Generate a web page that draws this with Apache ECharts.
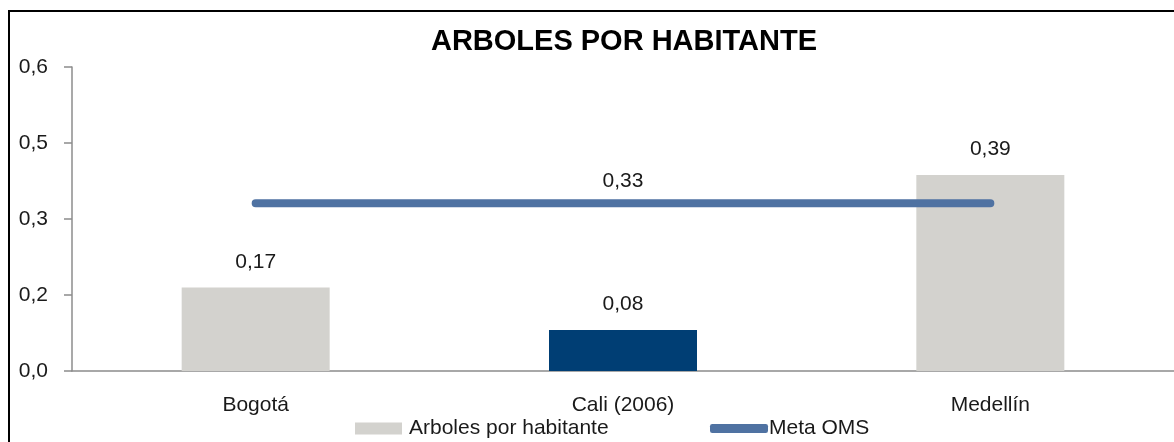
<!DOCTYPE html>
<html>
<head>
<meta charset="utf-8">
<script src="https://cdn.jsdelivr.net/npm/echarts@6/dist/echarts.min.js"></script>
<style>
  html, body { margin: 0; padding: 0; background: #fff; }
  #chart { width: 1174px; height: 442px; }
</style>
</head>
<body>
<div id="chart"></div>
<script>
const categories = ["Bogotá", "Cali (2006)", "Medellín"];
const arbolesValues = [0.165, 0.081, 0.387];
const metaOmsValues = [0.331, 0.331, 0.331];
const yTickLabels = ["0,0", "0,2", "0,3", "0,5", "0,6"];

const FONT = "'Liberation Sans', Arial, sans-serif";
const TXT = "#1a1a1a";

const chart = echarts.init(document.getElementById("chart"));

const valueLabel = (p) => p.value.toFixed(2).replace(".", ",");

const option = {
  animation: false,
  title: {
    text: "ARBOLES POR HABITANTE",
    left: 619,
    top: 22,
    textAlign: "center",
    textStyle: { fontFamily: FONT, fontSize: 29, fontWeight: "bold", color: "#000" },
  },
  graphic: [
    {
      type: "rect",
      shape: { x: 9, y: 11, width: 1400, height: 1000 },
      style: { fill: "none", stroke: "#000", lineWidth: 2 },
      silent: true,
    },
  ],
  legend: [
    {
      data: [{ name: "Arboles por habitante", icon: "rect" }],
      left: 355,
      top: 418,
      padding: 0,
      itemWidth: 47,
      itemHeight: 12,
      itemGap: 0,
      textStyle: { fontFamily: FONT, fontSize: 21, color: TXT, padding: [0, 0, 0, 2] },
    },
    {
      data: [{ name: "Meta OMS", icon: "roundRect" }],
      left: 710,
      top: 418,
      padding: 0,
      itemWidth: 58,
      itemHeight: 9,
      itemGap: 0,
      textStyle: { fontFamily: FONT, fontSize: 21, color: TXT, padding: [0, 0, 0, -4] },
    },
  ],
  grid: {
    left: 72,
    right: -6,
    top: 67,
    bottom: 71,
  },
  xAxis: {
    type: "category",
    data: categories,
    axisLine: { lineStyle: { color: "#8c8c8c", width: 1.5 } },
    axisTick: { length: 6, lineStyle: { color: "#8c8c8c", width: 1.5 } },
    axisLabel: { fontFamily: FONT, fontSize: 21, color: TXT, margin: 24 },
  },
  yAxis: {
    type: "value",
    min: 0,
    max: 0.6,
    interval: 0.15,
    splitLine: { show: false },
    axisLine: { show: true, lineStyle: { color: "#8c8c8c", width: 1.5 } },
    axisTick: { show: true, length: 8, lineStyle: { color: "#8c8c8c", width: 1.5 } },
    axisLabel: {
      fontFamily: FONT,
      fontSize: 21,
      color: TXT,
      margin: 24,
      formatter: (v) => yTickLabels[Math.round(v / 0.15)],
    },
  },
  series: [
    {
      name: "Arboles por habitante",
      type: "bar",
      barWidth: 148,
      color: "#D3D2CE",
      data: arbolesValues.map((v, i) =>
        i === 1 ? { value: v, itemStyle: { color: "#003E74" } } : v
      ),
      label: {
        show: true,
        position: "top",
        distance: 15,
        fontFamily: FONT,
        fontSize: 21,
        color: TXT,
        formatter: valueLabel,
      },
    },
    {
      name: "Meta OMS",
      type: "line",
      symbol: "circle",
      symbolSize: 0,
      showSymbol: true,
      color: "#4F72A2",
      lineStyle: { width: 8, cap: "round", color: "#4F72A2" },
      label: { show: false },
      data: metaOmsValues.map((v, i) =>
        i === 1
          ? {
              value: v,
              label: {
                show: true,
                position: "top",
                distance: 12,
                fontFamily: FONT,
                fontSize: 21,
                color: TXT,
                formatter: valueLabel,
              },
            }
          : v
      ),
    },
  ],
};

chart.setOption(option);
</script>
</body>
</html>
